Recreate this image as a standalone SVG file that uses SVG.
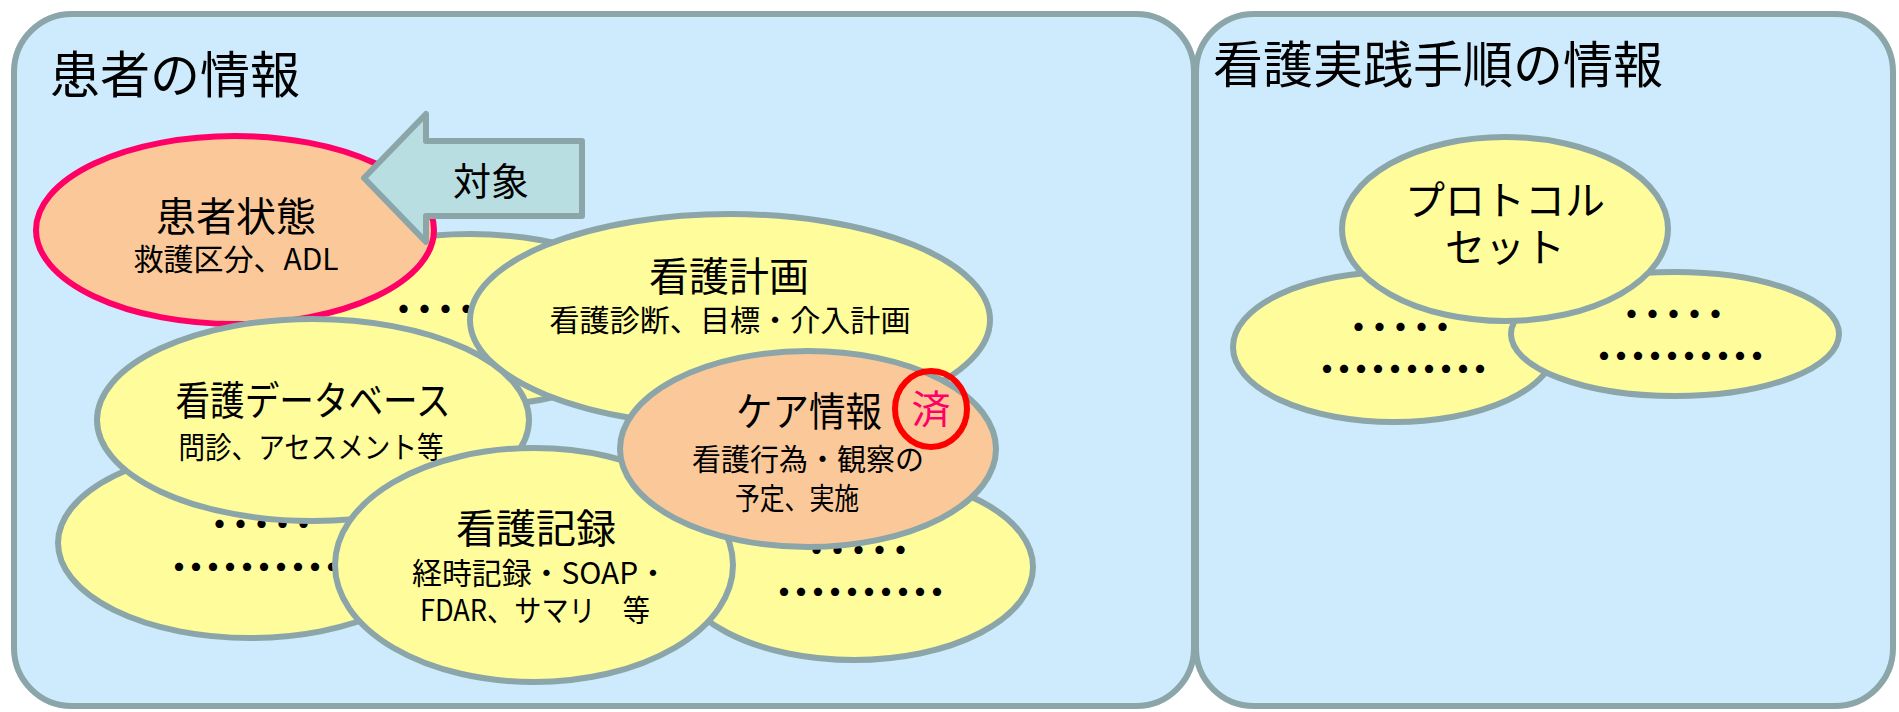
<svg xmlns="http://www.w3.org/2000/svg" width="1899" height="712" viewBox="0 0 1899 712">
<style>
text{font-family:"Noto Sans CJK JP","Noto Sans",sans-serif;fill:#000;text-anchor:middle}
.panel{fill:#CDEBFC;stroke:#8BA5A9;stroke-width:6}
.y{fill:#FFFD9B;stroke:#8BA5A9;stroke-width:6}
.o{fill:#FBC999;stroke:#8BA5A9;stroke-width:6}
.t{font-size:50px;text-anchor:start}
.h{font-size:40px}
.s{font-size:30px}
.d5{font-size:32px;font-weight:bold;letter-spacing:-11px}
.d10{font-size:32px;font-weight:bold;letter-spacing:-15px}
</style>
<g id="panel-patient">
<rect class="panel" x="14" y="14" width="1180" height="692" rx="58"/>
<text class="t" x="50" y="93">患者の情報</text>
</g>
<g id="panel-procedure">
<rect class="panel" x="1196" y="14" width="697" height="692" rx="58"/>
<text class="t" x="1213" y="83" font-size="51">看護実践手順の情報</text>
</g>
<g id="node-hidden1">
<ellipse class="y" cx="470" cy="320" rx="190" ry="86"/>
<text class="d5" x="440" y="321">・・・・・</text>
</g>
<g id="node-lowerleft">
<ellipse class="y" cx="250" cy="543" rx="192" ry="95"/>
<text class="d5" x="256" y="536">・・・・・</text>
<text class="d10" x="248" y="579">・・・・・・・・・・</text>
</g>
<g id="node-lowerright">
<ellipse class="y" cx="854" cy="567" rx="179" ry="93"/>
<text class="d5" x="853" y="562">・・・・・</text>
<text class="d10" x="853" y="604">・・・・・・・・・・</text>
</g>
<g id="node-patient-state">
<ellipse cx="235" cy="230" rx="199" ry="94" fill="#FBC999" stroke="#FF0066" stroke-width="6"/>
<text class="h" x="236" y="231">患者状態</text>
<text class="s" x="236" y="270">救護区分、ADL</text>
</g>
<g id="node-plan">
<ellipse class="y" cx="730" cy="320" rx="260" ry="106"/>
<text class="h" x="729" y="291">看護計画</text>
<text class="s" x="730" y="331" textLength="361" lengthAdjust="spacingAndGlyphs">看護診断、目標・介入計画</text>
</g>
<g id="node-database">
<ellipse class="y" cx="313" cy="420" rx="216" ry="101"/>
<text class="h" x="313" y="415" textLength="275" lengthAdjust="spacingAndGlyphs">看護データベース</text>
<text class="s" x="311" y="458" textLength="265" lengthAdjust="spacingAndGlyphs">問診、アセスメント等</text>
</g>
<g id="node-record">
<ellipse class="y" cx="534" cy="565" rx="199" ry="117"/>
<text class="h" x="536" y="543">看護記録</text>
<text class="s" x="540" y="584" textLength="256" lengthAdjust="spacingAndGlyphs">経時記録・SOAP・</text>
<text class="s" x="535" y="621" textLength="230" lengthAdjust="spacingAndGlyphs">FDAR、サマリ　等</text>
</g>
<g id="node-care">
<ellipse class="o" cx="808" cy="449" rx="188" ry="98"/>
<text class="h" x="809" y="426" textLength="146" lengthAdjust="spacingAndGlyphs">ケア情報</text>
<text class="s" x="808" y="470" textLength="232" lengthAdjust="spacingAndGlyphs">看護行為・観察の</text>
<text class="s" x="797" y="509" textLength="124" lengthAdjust="spacingAndGlyphs">予定、実施</text>
</g>
<g id="badge-done">
<ellipse cx="931" cy="409" rx="36" ry="38" fill="none" stroke="#FF0000" stroke-width="6"/>
<text x="931" y="423" font-size="39" style="fill:#FF0066">済</text>
</g>
<g id="arrow-target">
<polygon points="364,178 426,114 426,141 582,141 582,216 426,216 426,242" fill="#B8DEE2" stroke="#8BA5A9" stroke-width="6" stroke-linejoin="round"/>
<text x="491" y="195" font-size="38">対象</text>
</g>
<g id="node-rp-left">
<ellipse class="y" cx="1394" cy="347" rx="161" ry="75"/>
<text class="d5" x="1395" y="339">・・・・・</text>
<text class="d10" x="1396" y="381">・・・・・・・・・・</text>
</g>
<g id="node-rp-right">
<ellipse class="y" cx="1675" cy="334" rx="164" ry="62"/>
<text class="d5" x="1668" y="326">・・・・・</text>
<text class="d10" x="1673" y="368">・・・・・・・・・・</text>
</g>
<g id="node-protocol">
<ellipse class="y" cx="1505" cy="229" rx="163" ry="92"/>
<text class="h" x="1505" y="215">プロトコル</text>
<text class="h" x="1505" y="262">セット</text>
</g>
<g id="connectors"></g>
</svg>
